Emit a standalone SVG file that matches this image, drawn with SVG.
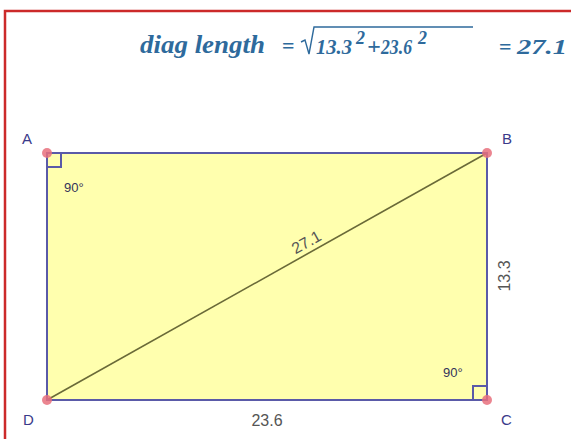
<svg xmlns="http://www.w3.org/2000/svg" width="571" height="439" viewBox="0 0 571 439">
<style>
.frame{fill:none;stroke:#cc2a2a;stroke-width:2.5}
.side{fill:none;stroke:#5a5aa8;stroke-width:2}
.diag{stroke:#6a6a38;stroke-width:1.6}
.pt{fill:#e8707c;fill-opacity:0.85}
.lbl{font-family:"Liberation Sans",Arial,sans-serif;font-size:15px;fill:#3a3a8a}
.ang{font-family:"Liberation Sans",Arial,sans-serif;font-size:13px;fill:#33335a}
.len{font-family:"Liberation Sans",Arial,sans-serif;font-size:16px;fill:#555555}
.eq{font-family:"Liberation Serif","Times New Roman",serif;font-style:italic;font-weight:bold;fill:#2e6a9c}
.op{font-family:"Liberation Serif","Times New Roman",serif;font-weight:bold;fill:#2e6a9c}
</style>
<rect width="571" height="439" fill="#ffffff"/>
<rect class="frame" x="5" y="11" width="600" height="460"/>
<g id="formula">
<text class="eq" x="140" y="53" font-size="25" textLength="125" lengthAdjust="spacingAndGlyphs">diag length</text>
<text class="op" x="282" y="53" font-size="22">=</text>
<path d="M301 42 L305 40 L309 54 L314 27 L473 27" fill="none" stroke="#2e6a9c" stroke-width="1.4"/>
<text class="eq" font-size="22"><tspan x="316" y="54" textLength="36" lengthAdjust="spacingAndGlyphs">13.3</tspan><tspan class="op" x="356" y="44" font-size="18" font-weight="normal">2</tspan><tspan class="op" x="367" y="54" font-size="24" font-weight="normal">+</tspan><tspan x="381" y="54" textLength="31" lengthAdjust="spacingAndGlyphs">23.6</tspan><tspan class="op" x="418" y="44" font-size="18" font-weight="normal">2</tspan></text>
<text class="op" x="499" y="54" font-size="22">=</text>
<text class="eq" x="517" y="54" font-size="22" textLength="50" lengthAdjust="spacingAndGlyphs">27.1</text>
</g>
<g id="rectangle">
<rect x="47" y="153" width="440" height="247" fill="#ffffae" stroke="none"/>
</g>
<g id="connectors">
<line class="diag" x1="47" y1="400" x2="487" y2="153"/>
<rect class="side" x="47" y="153" width="440" height="247"/>
<path class="side" d="M47 167 L61 167 L61 153" stroke-width="1.5"/>
<path class="side" d="M473 400 L473 386 L487 386" stroke-width="1.5"/>
</g>
<g id="A"><circle class="pt" cx="47" cy="153" r="5"/><text class="lbl" x="22" y="144">A</text></g>
<g id="B"><circle class="pt" cx="487" cy="153" r="5"/><text class="lbl" x="502" y="144">B</text></g>
<g id="C"><circle class="pt" cx="487" cy="400" r="5"/><text class="lbl" x="501" y="425">C</text></g>
<g id="D"><circle class="pt" cx="47" cy="400" r="5"/><text class="lbl" x="23" y="425">D</text></g>
<g id="labels">
<text class="ang" x="64" y="192">90°</text>
<text class="ang" x="443" y="377">90°</text>
<text class="len" x="267" y="426" text-anchor="middle">23.6</text>
<text class="len" x="0" y="0" text-anchor="middle" transform="translate(510,276) rotate(-90)">13.3</text>
<text class="len" x="0" y="0" text-anchor="middle" transform="translate(309,247) rotate(-29.3)">27.1</text>
</g>
</svg>
